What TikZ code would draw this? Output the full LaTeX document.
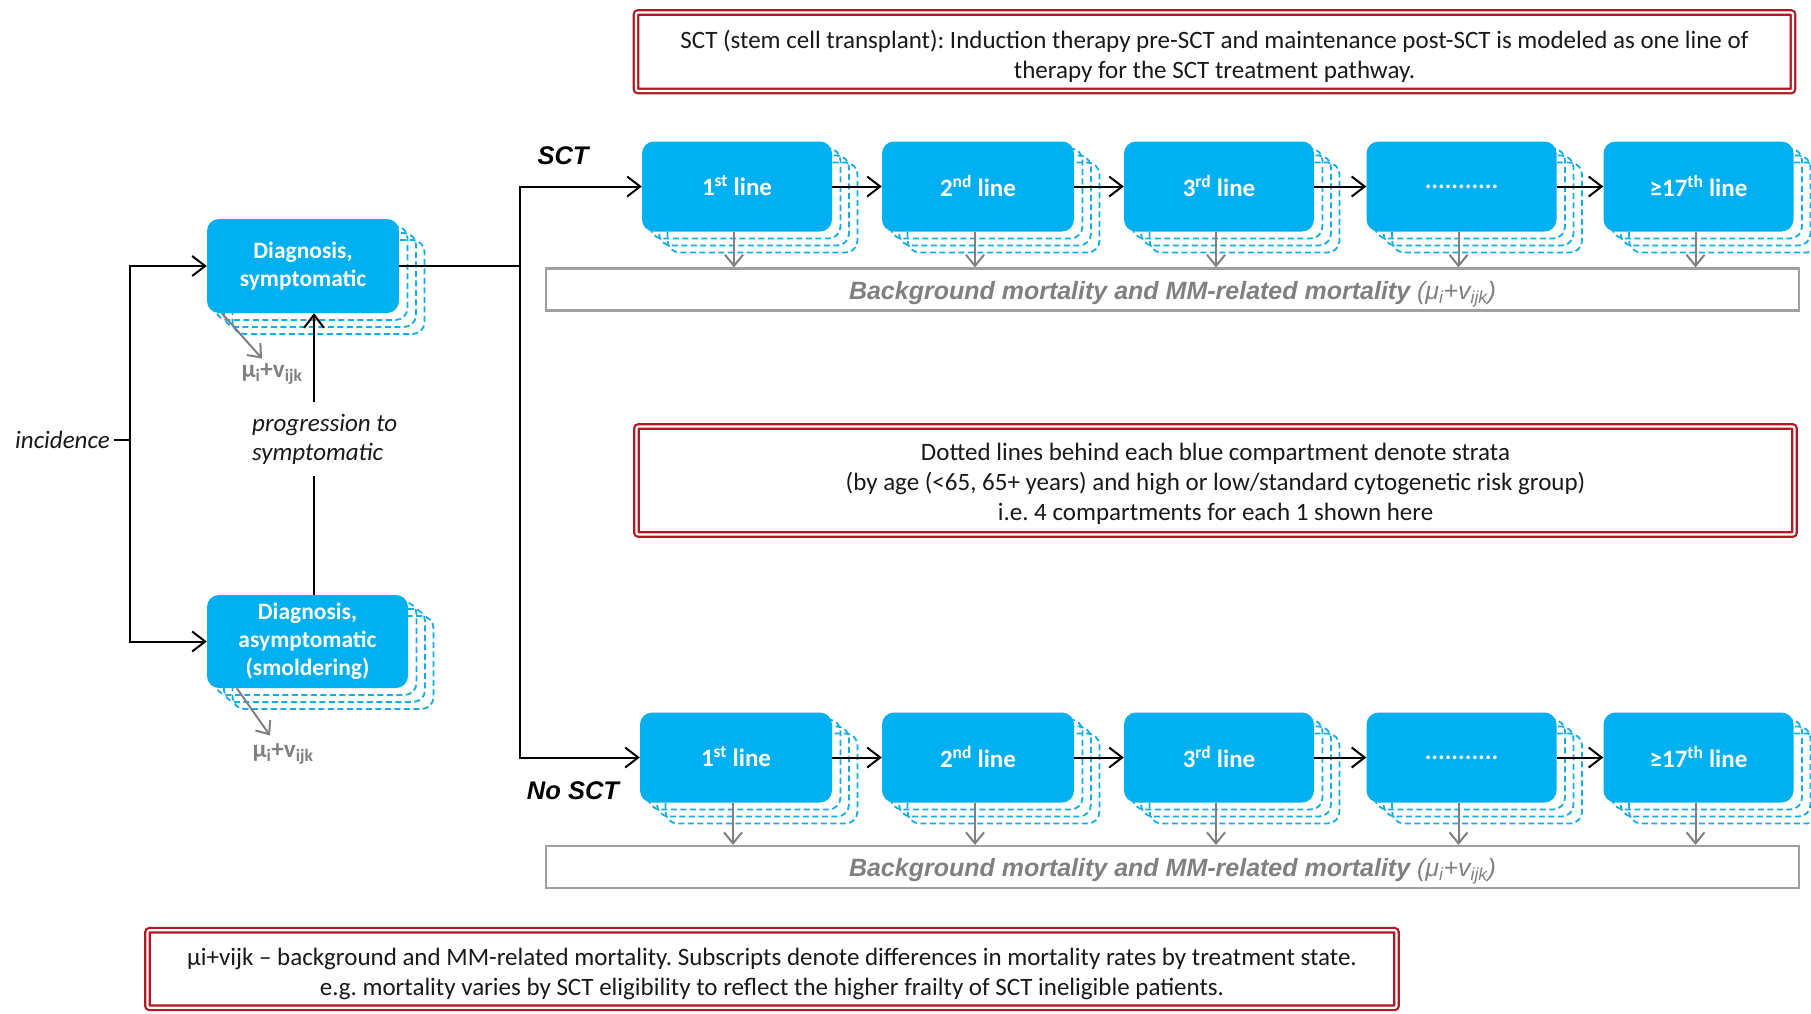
\documentclass[tikz,border=0pt]{standalone}
\usepackage{fontspec}
\setmainfont{Carlito}
\newfontfamily\arialf{Liberation Sans}
\usetikzlibrary{arrows.meta}
\frenchspacing
\definecolor{cblue}{RGB}{0,176,240}
\definecolor{cdash}{RGB}{20,172,232}
\definecolor{cred}{RGB}{176,24,36}
\definecolor{cgray}{RGB}{128,128,128}
\definecolor{cbord}{RGB}{160,160,160}
\definecolor{ctext}{RGB}{25,25,25}
\newcommand\fsz[2]{\fontsize{#1}{#2}\selectfont}
\tikzset{
  bluebox/.style={rounded corners=12pt, fill=cblue, text=white, font=\bfseries\fsz{23.5}{28}, align=center, inner sep=0pt},
  linebox/.style={font=\bfseries\fsz{25}{28}},
  dashcopy/.style={draw=cdash, line width=1.8pt, dash pattern=on 6pt off 3.5pt, rounded corners=12pt},
  arr/.style={draw=black, line width=2pt, -{Straight Barb[length=13pt,width=20pt]}},
  garr/.style={draw=cgray, line width=2pt, -{Straight Barb[length=11pt,width=18pt]}},
  conn/.style={draw=black, line width=2pt},
  mort/.style={draw=cbord, line width=2.2pt, minimum width=1253pt, minimum height=42pt, inner sep=0pt},
  morttext/.style={inner sep=0pt, text=cgray, font=\arialf\bfseries\itshape\fsz{25}{28}},
  notebox/.style={draw=cred, line width=2.2pt, double=white, double distance=2.2pt, rounded corners=2pt, inner sep=0pt},
  notetext/.style={text=ctext, font=\fsz{25}{30}, align=center, inner sep=0pt},
  mulab/.style={text=cgray, font=\bfseries\fsz{25}{28}, inner sep=0pt},
  pathlab/.style={font=\arialf\bfseries\itshape\fsz{25.5}{30}, inner sep=0pt},
  itlab/.style={text=ctext, font=\itshape\fsz{25}{29}},
}
% name, cx, cy, width, height, text, extra style
\newcommand\bluestack[7]{%
  \foreach \k in {3,2,1}{\draw[dashcopy] ({#2-#4/2+8.5*\k},{#3-#5/2+7*\k}) rectangle ++(#4,#5);}
  \node[bluebox, #7, minimum width=#4pt, minimum height=#5pt] (#1) at (#2,#3) {#6};
}
\newcommand\mortxt{Background mortality and MM-related mortality {\mdseries\fsz{25}{28}(μ\textsubscript{i}+v\textsubscript{ijk})}}
\begin{document}
\begin{tikzpicture}[x=1pt,y=-1pt]
\useasboundingbox (0,0) rectangle (1811,1013);
% notes
\node[notebox, minimum width=1157pt, minimum height=78.5pt] (note1) at (1214.5,51.75) {};
\node[notetext] (note1t) at (1214.5,56.5)
  {SCT (stem cell transplant): Induction therapy pre-SCT and maintenance post-SCT is modeled as one line of\\therapy for the SCT treatment pathway.};
\node[notebox, minimum width=1158pt, minimum height=108pt] (note2) at (1215.5,480.5) {};
\node[notetext] (note2t) at (1215.5,484)
  {Dotted lines behind each blue compartment denote strata\\(by age (<65, 65+ years) and high or low/standard cytogenetic risk group)\\i.e. 4 compartments for each 1 shown here};
\node[notebox, minimum width=1249pt, minimum height=77.5pt] (note3) at (772,969) {};
\node[notetext] (note3t) at (772,974)
  {μi+vijk – background and MM-related mortality. Subscripts denote differences in mortality rates by treatment state.\\e.g. mortality varies by SCT eligibility to reflect the higher frailty of SCT ineligible patients.};
% mortality boxes
\node[mort] (mt) at (1172.5,289.5) {};
\node[morttext] (mtt) at (1172.5,294) {\mortxt};
\node[mort] (mb) at (1172.5,867) {};
\node[morttext] (mbt) at (1172.5,871.5) {\mortxt};
% left boxes
\bluestack{sym}{303}{266}{192}{94}{Diagnosis,\\symptomatic}{}
\bluestack{asym}{307.5}{641.5}{201}{93}{Diagnosis,\\asymptomatic\\(smoldering)}{}
% rows
\bluestack{t1}{737}{186.5}{190}{90}{\raisebox{2pt}{1\textsuperscript{st} line}}{linebox}
\bluestack{t2}{978}{186.5}{192}{90}{\raisebox{2pt}{2\textsuperscript{nd} line}}{linebox}
\bluestack{t3}{1219}{186.5}{190}{90}{\raisebox{2pt}{3\textsuperscript{rd} line}}{linebox}
\bluestack{t4}{1461.5}{186.5}{190}{90}{...........}{linebox}
\bluestack{t5}{1698.5}{186.5}{190}{90}{\raisebox{2pt}{≥17\textsuperscript{th} line}}{linebox}
\bluestack{n1}{736}{757.5}{192}{90}{\raisebox{2pt}{1\textsuperscript{st} line}}{linebox}
\bluestack{n2}{978}{757.5}{192}{90}{\raisebox{2pt}{2\textsuperscript{nd} line}}{linebox}
\bluestack{n3}{1219}{757.5}{190}{90}{\raisebox{2pt}{3\textsuperscript{rd} line}}{linebox}
\bluestack{n4}{1461.5}{757.5}{190}{90}{...........}{linebox}
\bluestack{n5}{1698.5}{757.5}{190}{90}{\raisebox{2pt}{≥17\textsuperscript{th} line}}{linebox}
% row arrows
\foreach \i/\j in {1/2,2/3,3/4,4/5}{
  \draw[arr] (t\i.east) -- (t\j.west);
  \draw[arr] (n\i.east) -- (n\j.west);
}
\foreach \i in {1,...,5}{
  \draw[garr] ([xshift=-3pt]t\i.south) -- ([xshift=-3pt]t\i.south |- mt.north);
  \draw[garr] ([xshift=-3pt]n\i.south) -- ([xshift=-3pt]n\i.south |- mb.north);
}
% incidence
\node[itlab, inner sep=0pt, anchor=east] (inc) at (110,440) {incidence};
\coordinate (split) at (130,440);
\draw[conn] ([xshift=4pt]inc.east) -- (split);
\draw[arr] (split) |- (sym.west);
\draw[arr] (split) |- (asym.west);
% branch
\coordinate (br) at (520,266);
\draw[conn] (sym.east) -- (br);
\draw[arr] (br) |- (t1.west);
\draw[arr] (br) |- (n1.west);
\node[pathlab] (lsct) at (563,156) {SCT};
\node[pathlab] (lnsct) at (573,791) {No SCT};
% progression
\node[itlab, align=left, anchor=west, inner xsep=0pt, inner ysep=12pt] (prog) at (252,439) {progression to\\symptomatic};
\coordinate (px) at (314,0);
\draw[conn] (asym.north -| px) -- (prog.south -| px);
\draw[arr] (prog.north -| px) -- (sym.south -| px);
% mortality from diagnosis
\node[mulab] (mu1) at (272,374) {μ\textsubscript{i}+v\textsubscript{ijk}};
\node[mulab] (mu2) at (283,754) {μ\textsubscript{i}+v\textsubscript{ijk}};
\draw[garr] ([xshift=15pt]sym.south west) -- ([xshift=-10pt,yshift=5pt]mu1.north);
\draw[garr] ([xshift=30pt]asym.south west) -- ([xshift=-13pt,yshift=8pt]mu2.north);
\end{tikzpicture}
\end{document}
